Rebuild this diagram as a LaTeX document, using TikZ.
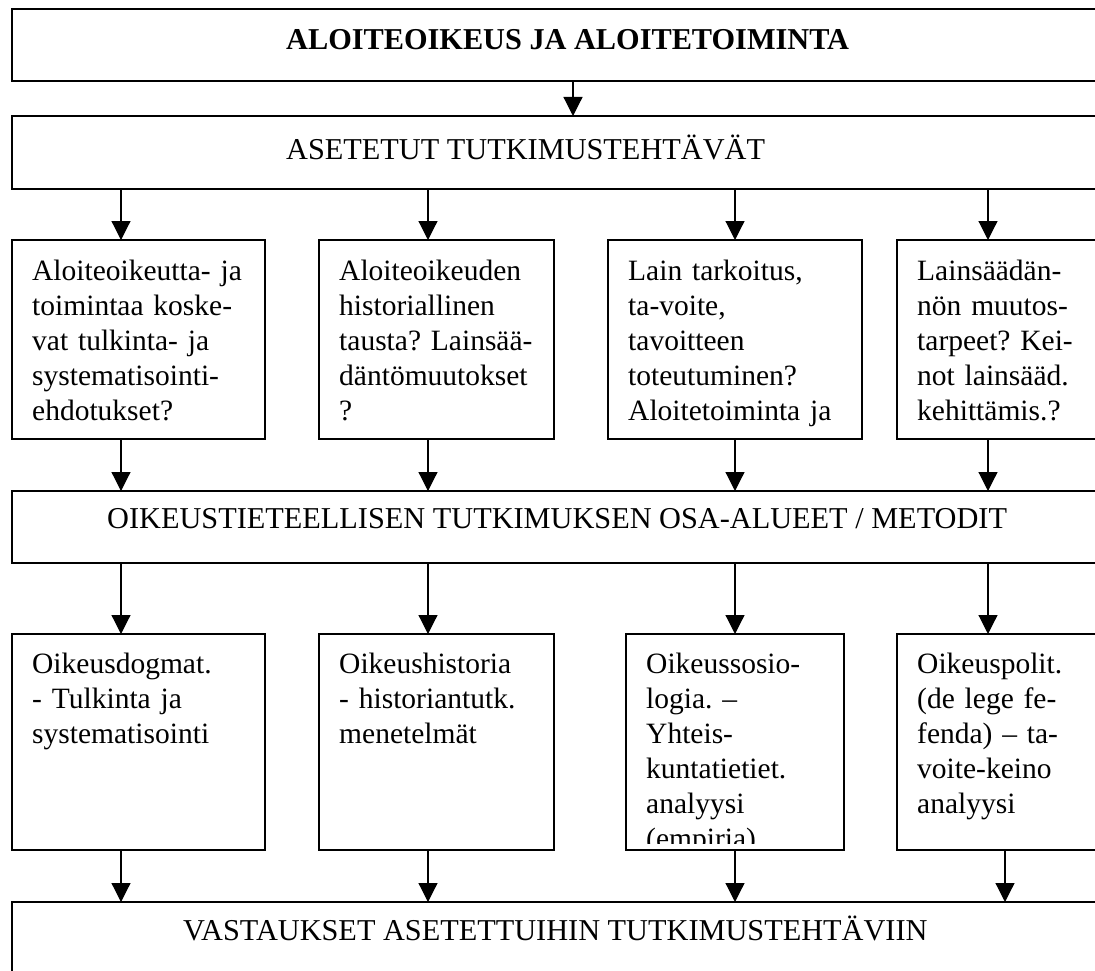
\documentclass[tikz,border=0pt]{standalone}
\usepackage{fontspec}
\setmainfont{Liberation Serif}
\usetikzlibrary{arrows.meta}
\frenchspacing
\begin{document}
\begin{tikzpicture}[x=1pt,y=-1pt,
  box/.style={draw, line width=1.5pt, rectangle, inner sep=0pt, outer sep=0pt, anchor=north west},
  lbl/.style={anchor=base west, inner sep=0pt, font=\fontsize{29.5}{35}\selectfont\frenchspacing},
  head/.style={anchor=base west, inner sep=0pt, font=\fontsize{30.3}{35}\selectfont},
  para/.style={lbl, text width=300pt, align=left},
  arr/.style={line width=1.2pt, -{Triangle[width=19pt,length=19pt]}}]
\useasboundingbox (0,0) rectangle (1095,971);
\clip (0,0) rectangle (1095,971);
\fill[white] (0,0) rectangle (1095,971);

% wide boxes
\node[box, minimum width=1103pt, minimum height=72pt] (title) at (12,9) {};
\node[box, minimum width=1103pt, minimum height=73pt] (task) at (12,116) {};
\node[box, minimum width=1103pt, minimum height=72pt] (method) at (12,491) {};
\node[box, minimum width=1103pt, minimum height=108pt] (answer) at (12,902) {};

\node[head] (titletext) at (286,50) {\bfseries ALOITEOIKEUS JA ALOITETOIMINTA};
\node[head] (tasktext) at (286,160) {ASETETUT TUTKIMUSTEHTÄVÄT};
\node[head] (methodtext) at (107,528) {OIKEUSTIETEELLISEN TUTKIMUKSEN OSA-ALUEET / METODIT};
\node[head] (answertext) at (183,940) {VASTAUKSET ASETETTUIHIN TUTKIMUSTEHTÄVIIN};

% question boxes
\node[box, minimum width=253pt, minimum height=199pt] (q1) at (12,240) {};
\node[box, minimum width=235pt, minimum height=199pt] (q2) at (319,240) {};
\node[box, minimum width=254pt, minimum height=199pt] (q3) at (608,240) {};
\node[box, minimum width=218pt, minimum height=199pt] (q4) at (897,240) {};

\node[para] (q1text) at (32,280) {Aloiteoikeutta- ja\\toimintaa koske-\\vat tulkinta- ja\\systematisointi-\\ehdotukset?};
\node[para] (q2text) at (339,280) {Aloiteoikeuden\\historiallinen\\tausta? Lainsää-\\däntömuutokset\\?};
\node[para] (q3text) at (628,280) {Lain tarkoitus,\\ta-voite,\\tavoitteen\\toteutuminen?\\Aloitetoiminta ja};
\node[para] (q4text) at (917,280) {Lainsäädän-\\nön muutos-\\tarpeet? Kei-\\not lainsääd.\\kehittämis.?};

% method boxes
\node[box, minimum width=253pt, minimum height=216pt] (m1) at (12,634) {};
\node[box, minimum width=235pt, minimum height=216pt] (m2) at (319,634) {};
\node[box, minimum width=218pt, minimum height=216pt] (m3) at (626,634) {};
\node[box, minimum width=218pt, minimum height=216pt] (m4) at (897,634) {};

\node[para] (m1text) at (32,673) {Oikeusdogmat.\\- Tulkinta ja\\systematisointi};
\node[para] (m2text) at (339,673) {Oikeushistoria\\- historiantutk.\\menetelmät};
\begin{scope}
\clip (626,634) rectangle (844,843);
\node[para] (m3text) at (646,673) {Oikeussosio-\\logia. –\\Yhteis-\\kuntatietiet.\\analyysi\\(empiria)};
\end{scope}
\node[para] (m4text) at (917,673) {Oikeuspolit.\\(de lege fe-\\fenda) – ta-\\voite-keino\\analyysi};

% arrow columns
\coordinate (c0) at (573,0);
\coordinate (c1) at (121,0);
\coordinate (c2) at (428,0);
\coordinate (c3) at (735,0);
\coordinate (c4) at (988,0);
\coordinate (c5) at (1005,0);

\draw[arr] (title.south -| c0) -- (task.north -| c0);
\foreach \i in {1,2,3,4} {
  \draw[arr] (task.south -| c\i) -- (q\i.north -| c\i);
  \draw[arr] (q\i.south -| c\i) -- (method.north -| c\i);
  \draw[arr] (method.south -| c\i) -- (m\i.north -| c\i);
}
\draw[arr] (m1.south -| c1) -- (answer.north -| c1);
\draw[arr] (m2.south -| c2) -- (answer.north -| c2);
\draw[arr] (m3.south -| c3) -- (answer.north -| c3);
\draw[arr] (m4.south -| c5) -- (answer.north -| c5);
\end{tikzpicture}
\end{document}
